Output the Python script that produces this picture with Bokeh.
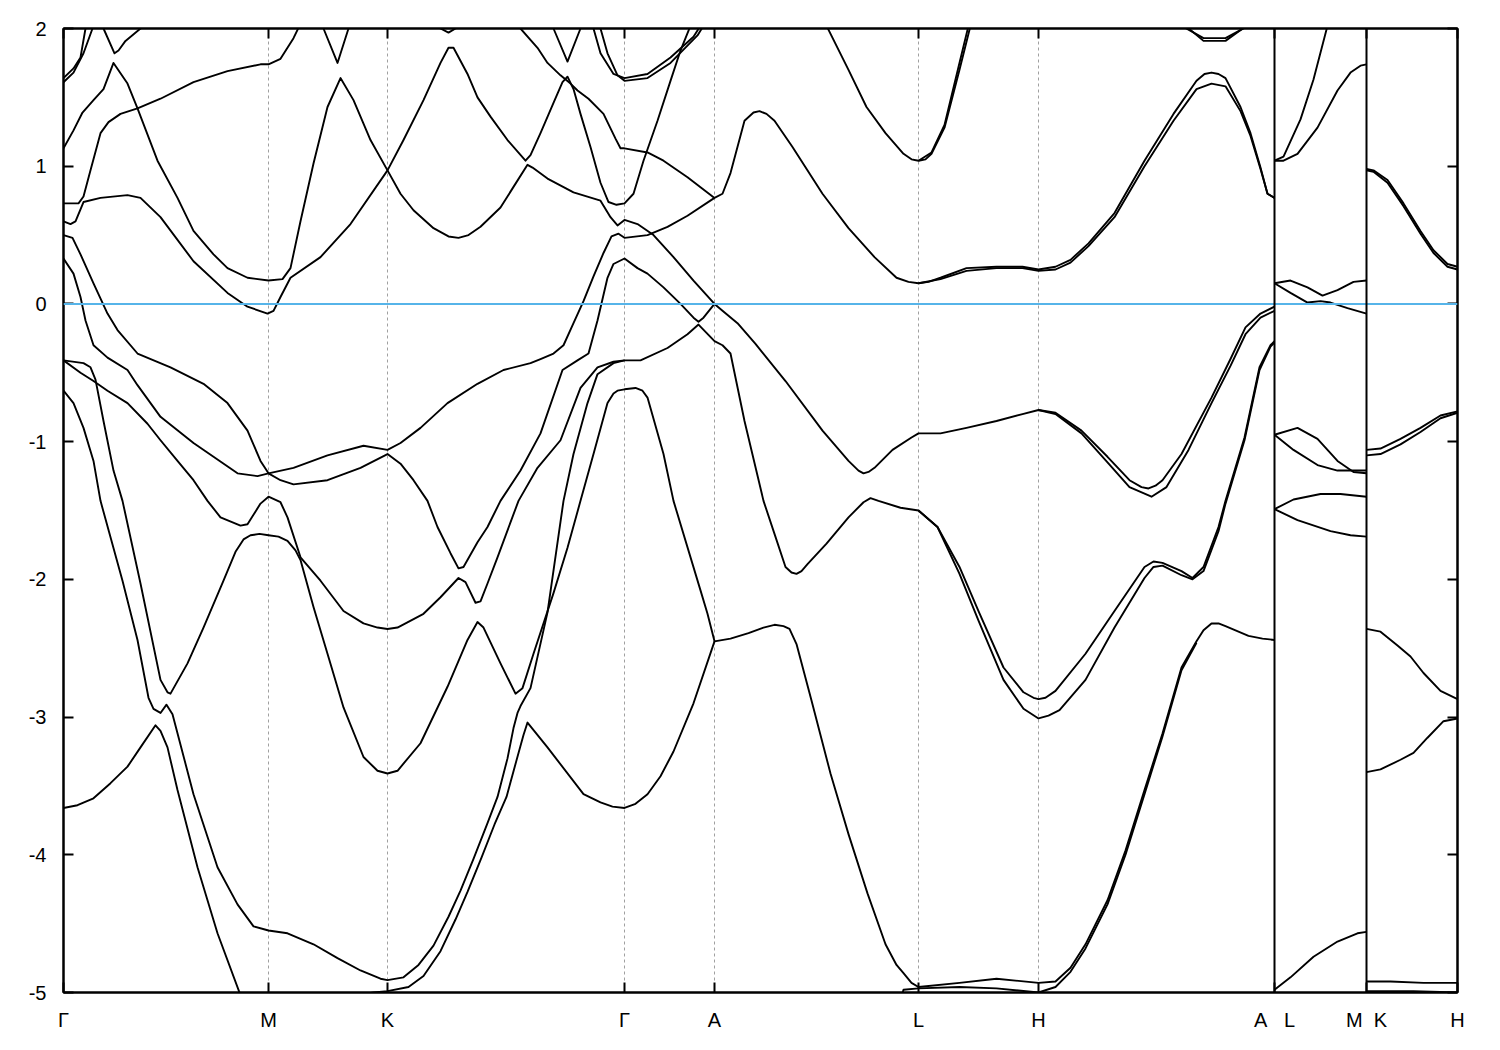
from bokeh.plotting import figure
from bokeh.models import Span, LinearAxis, FixedTicker, Range1d, ColumnDataSource
from bokeh.embed import file_html
from bokeh.resources import INLINE

# ---------------- data ----------------
tick_k = [0, 205, 324, 561, 651, 855, 975, 1211, 1303, 1394]
tick_labels = ["Γ", "M", "K", "Γ", "A", "L", "H", "A\u00a0\u00a0\u00a0L", "M\u00a0\u00a0K", "H"]
path_breaks = [1211, 1303]
y_ticks = [-5, -4, -3, -2, -1, 0, 1, 2]
e_min, e_max = -5.0, 2.0
fermi_level = 0.0

band_01 = [(0,1.64),(10,1.71),(17,1.79),(22,2.0),(24,2.1)]
band_02 = [(0,1.61),(10,1.68),(20,1.82),(29,2.0),(31,2.1)]
band_03 = [(38,2.1),(40,2.0),(51,1.82),(55,1.84),(62,1.91),(77,2.0),(80,2.05)]
band_04 = [(0,0.73),(15,0.73),(20,0.78),(27,0.97),(37,1.24),(45,1.32),(57,1.38),(74,1.42),(97,1.49),(130,1.61),(164,1.69),(197,1.74),(205,1.74),(217,1.78),(230,1.93),(236,2.02),(238,2.1)]
band_05 = [(0,1.13),(10,1.26),(19,1.39),(30,1.48),(40,1.56),(50,1.75),(64,1.60),(74,1.42),(94,1.04),(114,0.77),(130,0.53),(150,0.36),(164,0.26),(184,0.19),(205,0.17),(219,0.18),(227,0.26),(237,0.60),(250,1.02),(264,1.43),(277,1.64),(290,1.48),(307,1.19),(324,0.97),(337,0.80),(350,0.68),(370,0.55),(385,0.49),(395,0.48),(405,0.50),(417,0.56),(437,0.70),(450,0.85),(464,1.01),(469,0.99),(484,0.91),(510,0.81),(537,0.75),(547,0.63),(554,0.57),(561,0.61),(574,0.58),(590,0.50),(610,0.34),(630,0.17),(651,0.0),(659,-0.05),(674,-0.14),(692,-0.29),(722,-0.56),(759,-0.92),(785,-1.14),(795,-1.21),(800,-1.23),(805,-1.22),(811,-1.19),(829,-1.06),(848,-0.97),(855,-0.94),(877,-0.94),(903,-0.90),(933,-0.85),(959,-0.80),(975,-0.77),(992,-0.79),(1018,-0.92),(1044,-1.11),(1066,-1.28),(1078,-1.33),(1085,-1.34),(1092,-1.32),(1099,-1.28),(1118,-1.09),(1148,-0.68),(1167,-0.40),(1182,-0.17),(1197,-0.07),(1211,-0.02)]
band_06 = [(0,0.60),(7,0.58),(12,0.60),(20,0.74),(37,0.77),(64,0.79),(77,0.77),(97,0.63),(130,0.31),(164,0.08),(184,-0.02),(204,-0.07),(210,-0.05),(217,0.05),(227,0.19),(257,0.34),(287,0.58),(324,0.97),(340,1.19),(360,1.48),(377,1.75),(385,1.86),(390,1.86),(404,1.67),(414,1.50),(427,1.36),(444,1.19),(462,1.04),(467,1.08),(477,1.24),(490,1.46),(499,1.61),(504,1.65),(510,1.56),(517,1.38),(527,1.14),(537,0.88),(545,0.74),(553,0.72),(561,0.73),(570,0.80),(580,1.04),(594,1.33),(607,1.62),(617,1.84),(627,2.02),(629,2.1)]
band_07 = [(258,2.1),(260,2.0),(274,1.75),(285,2.0),(287,2.1)]
band_08 = [(375,2.1),(377,2.0),(385,1.97),(392,2.0),(394,2.1)]
band_09 = [(455,2.1),(457,2.0),(474,1.86),(484,1.75),(497,1.66),(507,1.60),(514,1.55),(525,1.49),(540,1.38),(552,1.20),(557,1.13),(561,1.13),(584,1.10),(600,1.04),(624,0.92),(651,0.77)]
band_10 = [(488,2.1),(490,2.0),(504,1.76),(517,2.0),(519,2.1)]
band_11 = [(528,2.1),(530,2.0),(537,1.82),(550,1.67),(561,1.64),(584,1.67),(607,1.79),(630,1.94),(637,2.02),(639,2.1)]
band_12 = [(535,2.1),(537,2.0),(544,1.82),(554,1.66),(561,1.62),(584,1.64),(607,1.75),(634,1.95),(640,2.02),(642,2.1)]
band_13 = [(0,0.33),(10,0.22),(17,0.05),(22,-0.12),(30,-0.30),(44,-0.39),(64,-0.48),(74,-0.59),(97,-0.82),(130,-1.01),(174,-1.23),(194,-1.25),(205,-1.23),(230,-1.19),(264,-1.10),(300,-1.03),(324,-1.06),(337,-1.01),(357,-0.90),(384,-0.72),(414,-0.58),(440,-0.48),(467,-0.43),(477,-0.40),(490,-0.36),(500,-0.30),(510,-0.14),(520,0.02),(530,0.20),(540,0.37),(548,0.49),(555,0.51),(561,0.48),(584,0.50),(604,0.56),(624,0.64),(651,0.77),(659,0.80),(667,0.95),(681,1.33),(690,1.39),(696,1.40),(703,1.38),(711,1.33),(729,1.14),(759,0.80),(785,0.55),(811,0.34),(833,0.19),(845,0.16),(855,0.15),(865,0.16),(877,0.19),(903,0.26),(933,0.27),(959,0.27),(975,0.25),(992,0.27),(1007,0.32),(1025,0.44),(1051,0.66),(1081,1.04),(1110,1.38),(1133,1.62),(1141,1.67),(1148,1.68),(1155,1.67),(1162,1.64),(1177,1.43),(1187,1.24),(1197,0.99),(1204,0.80),(1211,0.77)]
band_14 = [(0,0.50),(9,0.48),(17,0.36),(30,0.15),(44,-0.07),(54,-0.19),(74,-0.36),(107,-0.46),(140,-0.58),(164,-0.72),(184,-0.92),(197,-1.14),(205,-1.23),(217,-1.28),(230,-1.31),(264,-1.28),(297,-1.19),(324,-1.09),(337,-1.16),(350,-1.28),(364,-1.43),(374,-1.62),(387,-1.81),(395,-1.92),(400,-1.91),(414,-1.73),(424,-1.62),(437,-1.43),(457,-1.21),(477,-0.94),(499,-0.48),(514,-0.41),(525,-0.36),(534,-0.12),(544,0.19),(550,0.29),(561,0.33),(574,0.26),(584,0.22),(600,0.12),(617,0.0),(630,-0.10),(635,-0.13),(640,-0.10),(651,0.0)]
band_15 = [(0,-0.41),(17,-0.50),(30,-0.56),(44,-0.63),(64,-0.72),(84,-0.87),(97,-0.99),(114,-1.14),(130,-1.28),(144,-1.43),(157,-1.55),(177,-1.61),(184,-1.60),(197,-1.45),(205,-1.40),(217,-1.44),(224,-1.55),(237,-1.84),(257,-2.01),(280,-2.23),(300,-2.32),(314,-2.35),(324,-2.36),(334,-2.35),(360,-2.25),(377,-2.13),(395,-1.99),(402,-2.02),(412,-2.17),(417,-2.16),(424,-2.03),(434,-1.84),(455,-1.43),(474,-1.19),(497,-0.99),(517,-0.61),(534,-0.46),(550,-0.42),(561,-0.41),(577,-0.41),(604,-0.32),(624,-0.22),(635,-0.15),(651,-0.27),(659,-0.30),(667,-0.36),(681,-0.85),(700,-1.43),(711,-1.67),(722,-1.91),(728,-1.95),(733,-1.96),(738,-1.94),(744,-1.89),(763,-1.74),(785,-1.55),(800,-1.44),(807,-1.41),(815,-1.43),(837,-1.48),(855,-1.50),(874,-1.62),(896,-1.91),(915,-2.23),(940,-2.64),(960,-2.82),(970,-2.86),(975,-2.87),(982,-2.86),(992,-2.81),(1022,-2.54),(1051,-2.23),(1081,-1.91),(1090,-1.87),(1099,-1.88),(1118,-1.94),(1129,-1.99),(1140,-1.91),(1155,-1.62),(1162,-1.43),(1181,-0.97),(1196,-0.46),(1207,-0.30),(1211,-0.27)]
band_16 = [(0,-0.41),(20,-0.43),(27,-0.46),(32,-0.55),(40,-0.85),(50,-1.21),(59,-1.43),(77,-2.03),(97,-2.73),(104,-2.82),(107,-2.83),(124,-2.61),(140,-2.35),(160,-2.01),(172,-1.80),(180,-1.71),(187,-1.68),(196,-1.67),(205,-1.68),(215,-1.69),(224,-1.72),(232,-1.79),(237,-1.86),(250,-2.20),(264,-2.54),(280,-2.93),(300,-3.29),(314,-3.39),(324,-3.41),(334,-3.39),(357,-3.19),(384,-2.78),(404,-2.44),(414,-2.31),(420,-2.35),(437,-2.61),(452,-2.83),(459,-2.79),(470,-2.54),(490,-2.10),(504,-1.77),(517,-1.43),(530,-1.09),(544,-0.72),(550,-0.65),(554,-0.63),(561,-0.62),(572,-0.61),(579,-0.63),(584,-0.68),(600,-1.09),(610,-1.43),(637,-2.08),(644,-2.25),(651,-2.45),(667,-2.43),(685,-2.39),(700,-2.35),(711,-2.33),(720,-2.34),(726,-2.36),(733,-2.47),(748,-2.88),(767,-3.41),(785,-3.85),(804,-4.28),(822,-4.65),(833,-4.80),(840,-4.86),(848,-4.93),(855,-4.96),(896,-4.93),(933,-4.90),(975,-4.93),(992,-4.92),(1007,-4.82),(1022,-4.65),(1044,-4.33),(1062,-3.97),(1081,-3.53),(1099,-3.12),(1118,-2.64),(1133,-2.45),(1140,-2.37),(1148,-2.32),(1155,-2.32),(1162,-2.34),(1185,-2.41),(1199,-2.43),(1211,-2.44)]
band_17 = [(0,-0.63),(10,-0.72),(20,-0.90),(30,-1.14),(37,-1.43),(59,-2.01),(74,-2.44),(85,-2.86),(90,-2.94),(97,-2.97),(103,-2.91),(109,-2.98),(130,-3.56),(154,-4.09),(174,-4.36),(190,-4.52),(205,-4.55),(224,-4.57),(250,-4.65),(274,-4.75),(297,-4.84),(317,-4.90),(324,-4.91),(340,-4.89),(355,-4.80),(370,-4.66),(385,-4.45),(397,-4.26),(410,-4.03),(424,-3.77),(434,-3.58),(444,-3.30),(450,-3.08),(454,-2.97),(457,-2.92),(467,-2.79),(484,-2.24),(500,-1.43),(510,-1.09),(524,-0.72),(534,-0.51),(550,-0.43),(561,-0.41)]
band_18 = [(0,-3.66),(14,-3.64),(30,-3.59),(47,-3.48),(64,-3.36),(77,-3.22),(92,-3.06),(97,-3.10),(104,-3.22),(114,-3.53),(134,-4.09),(154,-4.57),(177,-5.02),(178,-5.1)]
band_19 = [(290,-5.1),(292,-5.02),(310,-5.0),(324,-4.99),(345,-4.96),(360,-4.88),(377,-4.70),(392,-4.47),(404,-4.27),(418,-4.02),(431,-3.78),(443,-3.58),(452,-3.34),(460,-3.13),(464,-3.04),(484,-3.22),(520,-3.56),(537,-3.62),(549,-3.65),(561,-3.66),(572,-3.63),(584,-3.56),(597,-3.43),(610,-3.25),(630,-2.90),(651,-2.45)]
band_20 = [(855,-1.50),(874,-1.62),(896,-1.96),(915,-2.30),(940,-2.73),(960,-2.94),(975,-3.01),(985,-2.99),(996,-2.95),(1022,-2.73),(1051,-2.35),(1081,-1.99),(1090,-1.91),(1099,-1.90),(1118,-1.97),(1129,-2.00),(1140,-1.94),(1155,-1.65),(1162,-1.45),(1181,-0.99),(1196,-0.48),(1207,-0.31),(1211,-0.28)]
band_21 = [(835,-5.1),(840,-4.98),(855,-4.97),(896,-4.96),(933,-4.97),(975,-5.0),(992,-4.96),(1007,-4.85),(1022,-4.68),(1044,-4.36),(1062,-4.00),(1081,-3.56),(1099,-3.14),(1118,-2.66),(1133,-2.46)]
band_22 = [(855,0.15),(877,0.18),(903,0.24),(933,0.26),(959,0.26),(975,0.24),(992,0.25),(1007,0.30),(1025,0.42),(1051,0.63),(1081,1.00),(1110,1.33),(1133,1.56),(1148,1.60),(1162,1.58),(1177,1.40),(1187,1.22),(1197,0.98),(1204,0.80),(1211,0.77)]
band_23 = [(761,2.1),(763,2.02),(785,1.70),(803,1.43),(822,1.24),(840,1.09),(848,1.05),(855,1.04),(862,1.05),(868,1.09),(881,1.28),(896,1.70),(907,2.02),(909,2.1)]
band_24 = [(855,1.04),(868,1.10),(881,1.30),(895,1.72),(905,2.02),(907,2.1)]
band_25 = [(1116,2.1),(1118,2.02),(1140,1.93),(1162,1.93),(1185,2.02),(1187,2.1)]
band_26 = [(1120,2.1),(1122,2.02),(1140,1.91),(1162,1.91),(1183,2.02),(1185,2.1)]
band_27 = [(975,-0.77),(992,-0.80),(1018,-0.94),(1044,-1.15),(1066,-1.33),(1088,-1.40),(1103,-1.33),(1125,-1.06),(1148,-0.72),(1167,-0.45),(1182,-0.22),(1197,-0.10),(1211,-0.05)]
band_28 = [(1211,1.04),(1220,1.07),(1237,1.34),(1250,1.63),(1264,2.02),(1266,2.1)]
band_29 = [(1211,1.04),(1220,1.04),(1234,1.09),(1254,1.28),(1274,1.55),(1287,1.68),(1297,1.73),(1303,1.74)]
band_30 = [(1211,0.15),(1227,0.17),(1244,0.12),(1259,0.06),(1274,0.10),(1290,0.16),(1303,0.17)]
band_31 = [(1211,0.15),(1227,0.08),(1244,0.01),(1257,0.02),(1267,0.01),(1284,-0.03),(1303,-0.07)]
band_32 = [(1211,-0.95),(1234,-0.90),(1254,-0.98),(1274,-1.14),(1290,-1.22),(1303,-1.23)]
band_33 = [(1211,-0.95),(1230,-1.06),(1254,-1.17),(1274,-1.21),(1290,-1.21),(1303,-1.21)]
band_34 = [(1211,-1.49),(1230,-1.42),(1257,-1.38),(1277,-1.38),(1303,-1.40)]
band_35 = [(1211,-1.49),(1234,-1.57),(1267,-1.65),(1287,-1.68),(1303,-1.69)]
band_36 = [(1211,-4.98),(1227,-4.89),(1250,-4.74),(1274,-4.63),(1294,-4.57),(1303,-4.56)]
band_37 = [(1303,0.98),(1310,0.97),(1324,0.90),(1340,0.73),(1357,0.53),(1370,0.39),(1384,0.29),(1394,0.27)]
band_38 = [(1303,0.97),(1310,0.96),(1324,0.88),(1340,0.71),(1357,0.51),(1370,0.37),(1384,0.27),(1394,0.25)]
band_39 = [(1303,-1.06),(1317,-1.05),(1337,-0.98),(1357,-0.90),(1377,-0.81),(1394,-0.78)]
band_40 = [(1303,-1.10),(1317,-1.09),(1337,-1.02),(1357,-0.93),(1377,-0.83),(1394,-0.79)]
band_41 = [(1303,-2.36),(1317,-2.38),(1334,-2.48),(1347,-2.56),(1360,-2.68),(1377,-2.81),(1394,-2.87)]
band_42 = [(1303,-3.40),(1317,-3.38),(1337,-3.31),(1350,-3.26),(1364,-3.15),(1380,-3.03),(1394,-3.01)]
band_43 = [(1303,-4.92),(1327,-4.92),(1360,-4.93),(1394,-4.93)]
band_44 = [(1303,-4.99),(1350,-4.99),(1394,-5.0)]

bands = [band_01, band_02, band_03, band_04, band_05, band_06, band_07, band_08, band_09, band_10,
         band_11, band_12, band_13, band_14, band_15, band_16, band_17, band_18, band_19, band_20,
         band_21, band_22, band_23, band_24, band_25, band_26, band_27, band_28, band_29, band_30,
         band_31, band_32, band_33, band_34, band_35, band_36, band_37, band_38, band_39, band_40,
         band_41, band_42, band_43, band_44]

# ---------------- figure ----------------
FONT = "Liberation Sans"
p = figure(width=1490, height=1040, output_backend="svg", toolbar_location=None,
           x_range=Range1d(tick_k[0], tick_k[-1]), y_range=Range1d(e_min, e_max),
           min_border_left=63, min_border_right=33, min_border_top=28, min_border_bottom=48)
p.background_fill_color = "white"
p.border_fill_color = "white"
p.outline_line_color = "black"
p.outline_line_width = 2

src = ColumnDataSource(dict(xs=[[pt[0] for pt in b] for b in bands],
                            ys=[[pt[1] for pt in b] for b in bands]))
p.multi_line("xs", "ys", source=src, line_color="black", line_width=1.9, line_join="round")

p.add_layout(Span(location=fermi_level, dimension="width", line_color="#56b4e9", line_width=2))
for kb in path_breaks:
    p.add_layout(Span(location=kb, dimension="height", line_color="black", line_width=2))

# axes
xt = FixedTicker(ticks=tick_k)
yt = FixedTicker(ticks=y_ticks)
p.xaxis.ticker = xt
p.xaxis.major_label_overrides = {k: lab for k, lab in zip(tick_k, tick_labels)}
p.yaxis.ticker = yt
p.yaxis.major_label_overrides = {v: str(v) for v in y_ticks}
for ax in (p.xaxis[0], p.yaxis[0]):
    ax.major_tick_in = 10
    ax.major_tick_out = 0
    ax.minor_tick_in = 0
    ax.minor_tick_out = 0
    ax.major_tick_line_color = "black"
    ax.major_tick_line_width = 2
    ax.axis_line_color = "black"
    ax.axis_line_width = 2
    ax.major_label_text_font = FONT
    ax.major_label_text_font_size = "20px"
    ax.major_label_text_color = "black"
p.xaxis.major_label_standoff = 16
p.yaxis.major_label_standoff = 17

# mirrored tick marks (gnuplot style) on the right and top frame edges
right = LinearAxis(ticker=FixedTicker(ticks=y_ticks), major_label_text_font_size="0px",
                   major_tick_in=10, major_tick_out=0, minor_tick_in=0, minor_tick_out=0,
                   major_tick_line_width=2, axis_line_width=2)
p.add_layout(right, "right")
top = LinearAxis(ticker=FixedTicker(ticks=tick_k), major_label_text_font_size="0px",
                 major_tick_in=10, major_tick_out=0, minor_tick_in=0, minor_tick_out=0,
                 major_tick_line_width=2, axis_line_width=2)
p.add_layout(top, "above")

p.xgrid.ticker = xt
p.xgrid.grid_line_color = "#a0a0a0"
p.xgrid.grid_line_dash = "3 3"
p.xgrid.grid_line_width = 1
p.ygrid.grid_line_color = None

open("out.html", "w").write(file_html(p, INLINE))
